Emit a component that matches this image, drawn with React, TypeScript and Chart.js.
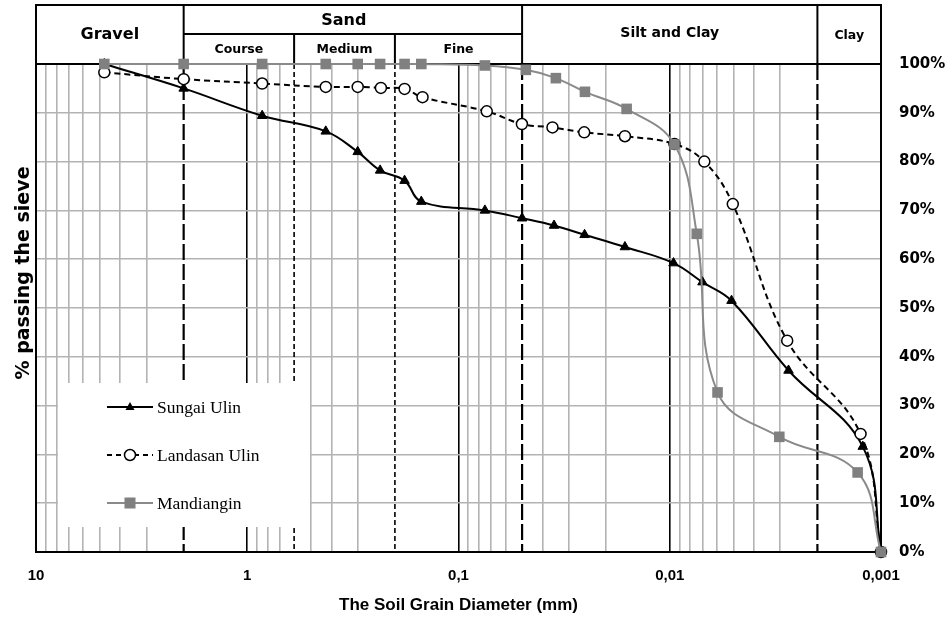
import React, { useEffect, useRef } from 'react';
import { Chart, registerables } from 'chart.js';

Chart.register(...registerables);

// ---------------- data ----------------
const sungaiDiam = [4.75, 2.0, 0.85, 0.425, 0.3, 0.235, 0.18, 0.15, 0.075, 0.05, 0.0353, 0.0253, 0.0163, 0.0096, 0.007, 0.0051, 0.00274, 0.00122, 0.001];
const sungaiPass = [100, 95.0, 89.4, 86.2, 82.0, 78.2, 76.1, 71.8, 70.0, 68.4, 66.9, 65.0, 62.5, 59.2, 55.3, 51.5, 37.2, 21.6, 0];

const landasanDiam = [4.75, 2.0, 0.85, 0.425, 0.3, 0.233, 0.18, 0.148, 0.0735, 0.0501, 0.0359, 0.0254, 0.0163, 0.0095, 0.00686, 0.00503, 0.00278, 0.00125, 0.001];
const landasanPass = [98.3, 96.9, 96.0, 95.3, 95.3, 95.1, 94.9, 93.2, 90.3, 87.7, 87.0, 86.0, 85.2, 83.6, 80.0, 71.3, 43.3, 24.2, 0];

const mandDiam = [4.75, 2.0, 0.85, 0.425, 0.3, 0.235, 0.18, 0.15, 0.075, 0.048, 0.0346, 0.0252, 0.016, 0.0095, 0.00745, 0.00594, 0.00303, 0.00129, 0.001];
const mandPass = [100, 100, 100, 100, 100, 100, 100, 100, 99.7, 98.8, 97.1, 94.3, 90.8, 83.5, 65.2, 32.7, 23.6, 16.3, 0];

const seriesNames = ['Sungai Ulin', 'Landasan Ulin', 'Mandiangin'];

const xTickValues = [10, 1, 0.1, 0.01, 0.001];
const xTickLabels = ['10', '1', '0,1', '0,01', '0,001'];
const yTickValues = [0, 10, 20, 30, 40, 50, 60, 70, 80, 90, 100];
const yTickLabels = ['0%', '10%', '20%', '30%', '40%', '50%', '60%', '70%', '80%', '90%', '100%'];

// soil class boundaries (mm)
const boundaryDiam = [2, 0.6, 0.2, 0.05, 0.002];
// header classes: [name, from diameter, to diameter]
const mainClasses: [string, number, number][] = [
  ['Gravel', 10, 2],
  ['Sand', 2, 0.05],
  ['Silt and Clay', 0.05, 0.002],
  ['Clay', 0.002, 0.001],
];
const sandClasses: [string, number, number][] = [
  ['Course', 2, 0.6],
  ['Medium', 0.6, 0.2],
  ['Fine', 0.2, 0.05],
];

const yTitle = '% passing the sieve';
const xTitle = 'The Soil Grain Diameter (mm)';

// ---------------- helpers ----------------
const isDecade = (v: number) => Math.abs(Math.log10(v) - Math.round(Math.log10(v))) < 1e-9;
const near = (a: number, b: number) => Math.abs(Math.log10(a) - Math.log10(b)) < 1e-6;

const gridValues: number[] = [];
for (let e = 0; e >= -3; e--) {
  for (let k = 9; k >= 1; k--) gridValues.push(parseFloat((k * Math.pow(10, e)).toPrecision(6)));
}
gridValues.unshift(10);

const GRAY = '#b3b3b3';
const HEAD_FONT = '"DejaVu Sans", sans-serif';
const NARROW = '"Liberation Sans Narrow", "Arial Narrow", "Liberation Sans", sans-serif';

const decorPlugin = {
  id: 'decor',
  beforeDatasetsDraw(chart: any) {
    const { ctx, chartArea: a, scales } = chart;
    const xs = scales.x;
    const px = (d: number) => xs.getPixelForValue(d);
    ctx.save();

    // boundary dashed lines
    boundaryDiam.forEach((d) => {
      const long = d === 2 || d === 0.05 || d === 0.002;
      ctx.beginPath();
      ctx.strokeStyle = '#000';
      ctx.lineWidth = long ? 2.2 : 1.6;
      ctx.setLineDash(long ? [16, 4] : [5, 3]);
      ctx.moveTo(px(d), a.top);
      ctx.lineTo(px(d), a.bottom);
      ctx.stroke();
    });
    ctx.setLineDash([]);

    // frame
    ctx.lineWidth = 2;
    ctx.strokeStyle = '#000';
    ctx.strokeRect(a.left, a.top, a.right - a.left, a.bottom - a.top);

    // header
    const hTop = 5;
    const hMid = 34;
    const hBot = a.top;
    ctx.beginPath();
    ctx.rect(a.left, hTop, a.right - a.left, hBot - hTop);
    [2, 0.05, 0.002].forEach((d) => {
      ctx.moveTo(px(d), hTop);
      ctx.lineTo(px(d), hBot);
    });
    ctx.moveTo(px(2), hMid);
    ctx.lineTo(px(0.05), hMid);
    [0.6, 0.2].forEach((d) => {
      ctx.moveTo(px(d), hMid);
      ctx.lineTo(px(d), hBot);
    });
    ctx.stroke();

    ctx.fillStyle = '#000';
    ctx.textAlign = 'center';
    ctx.textBaseline = 'middle';
    mainClasses.forEach(([name, d0, d1]) => {
      const cx = (px(d0) + px(d1)) / 2;
      if (name === 'Sand') {
        ctx.font = `bold 16px ${HEAD_FONT}`;
        ctx.fillText(name, cx - 9, 21);
      } else if (name === 'Clay') {
        ctx.font = `bold 12.5px ${HEAD_FONT}`;
        ctx.fillText(name, cx, 36);
      } else if (name === 'Silt and Clay') {
        ctx.font = `bold 14px ${HEAD_FONT}`;
        ctx.fillText(name, cx, 33);
      } else {
        ctx.font = `bold 16px ${HEAD_FONT}`;
        ctx.fillText(name, cx, 35);
      }
    });
    ctx.font = `bold 12.5px ${HEAD_FONT}`;
    sandClasses.forEach(([name, d0, d1]) => {
      ctx.fillText(name, (px(d0) + px(d1)) / 2, 50);
    });

    // left title
    ctx.save();
    ctx.translate(24, 273);
    ctx.rotate(-Math.PI / 2);
    ctx.font = `bold 19px ${HEAD_FONT}`;
    ctx.fillText(yTitle, 0, 0);
    ctx.restore();

    // legend box
    const lx = 58, ly = 383, lw = 252, lh = 144;
    ctx.fillStyle = '#fff';
    ctx.fillRect(lx, ly, lw, lh);
    const rows = [407, 455, 503];
    rows.forEach((ry, i) => {
      const x0 = 107, x1 = 153, mx = 130;
      ctx.beginPath();
      ctx.lineWidth = 2;
      ctx.strokeStyle = i === 2 ? '#8a8a8a' : '#000';
      ctx.setLineDash(i === 1 ? [5, 4] : []);
      ctx.moveTo(x0, ry);
      ctx.lineTo(x1, ry);
      ctx.stroke();
      ctx.setLineDash([]);
      if (i === 0) {
        ctx.beginPath();
        ctx.fillStyle = '#000';
        ctx.moveTo(mx, ry - 5);
        ctx.lineTo(mx + 4.5, ry + 3);
        ctx.lineTo(mx - 4.5, ry + 3);
        ctx.closePath();
        ctx.fill();
      } else if (i === 1) {
        ctx.beginPath();
        ctx.fillStyle = '#fff';
        ctx.lineWidth = 1.5;
        ctx.strokeStyle = '#000';
        ctx.arc(mx, ry, 5.5, 0, Math.PI * 2);
        ctx.fill();
        ctx.stroke();
      } else {
        ctx.fillStyle = '#808080';
        ctx.fillRect(mx - 5.5, ry - 5.5, 11, 11);
      }
      ctx.fillStyle = '#000';
      ctx.font = '17.5px "Liberation Serif", serif';
      ctx.textAlign = 'left';
      ctx.textBaseline = 'middle';
      ctx.fillText(seriesNames[i], 157, ry + 1);
    });

    ctx.restore();
  },
};

export default function App() {
  const ref = useRef<HTMLCanvasElement>(null);
  useEffect(() => {
    const toPts = (xs: number[], ys: number[]) => xs.map((x, i) => ({ x, y: ys[i] }));
    const chart = new Chart(ref.current as HTMLCanvasElement, {
      type: 'line',
      data: {
        datasets: [
          {
            label: seriesNames[0],
            data: toPts(sungaiDiam, sungaiPass),
            borderColor: '#000',
            backgroundColor: '#000',
            borderWidth: 2,
            pointStyle: 'triangle',
            pointRadius: 5.5,
            pointBackgroundColor: '#000',
            pointBorderColor: '#000',
            pointBorderWidth: 1,
            tension: 0.4,
            clip: false,
            order: 2,
          } as any,
          {
            label: seriesNames[1],
            data: toPts(landasanDiam, landasanPass),
            borderColor: '#000',
            backgroundColor: '#fff',
            borderWidth: 2,
            borderDash: [6, 4],
            pointStyle: 'circle',
            pointRadius: 5.5,
            pointBackgroundColor: '#fff',
            pointBorderColor: '#000',
            pointBorderWidth: 1.5,
            tension: 0.4,
            clip: false,
            order: 1,
          } as any,
          {
            label: seriesNames[2],
            data: toPts(mandDiam, mandPass),
            borderColor: '#8a8a8a',
            backgroundColor: '#808080',
            borderWidth: 2,
            pointStyle: 'rect',
            pointRadius: 7.5,
            pointBackgroundColor: '#808080',
            pointBorderColor: '#808080',
            pointBorderWidth: 0,
            tension: 0.4,
            clip: false,
            order: 0,
          } as any,
        ],
      },
      options: {
        responsive: false,
        animation: false,
        events: [],
        layout: { padding: { top: 64, left: 36, right: 0, bottom: 0 } },
        plugins: { legend: { display: false }, tooltip: { enabled: false } },
        scales: {
          x: {
            type: 'logarithmic',
            reverse: true,
            min: 0.001,
            max: 10,
            afterBuildTicks: (scale: any) => {
              scale.ticks = gridValues.map((v) => ({ value: v, major: isDecade(v) }));
            },
            afterFit: (scale: any) => {
              scale.height = 68;
            },
            border: { display: false },
            grid: {
              drawTicks: false,
              color: (c: any) => {
                const v = c.tick ? c.tick.value : 0;
                if (boundaryDiam.some((b) => near(b, v))) return 'rgba(0,0,0,0)';
                return isDecade(v) ? '#000' : GRAY;
              },
              lineWidth: 1.6,
            },
            ticks: {
              autoSkip: false,
              maxRotation: 0,
              minRotation: 0,
              padding: 15,
              color: '#000',
              font: { family: NARROW, size: 15, weight: 'bold' },
              callback: (v: any) => {
                const i = xTickValues.findIndex((t) => near(t, Number(v)));
                return i >= 0 ? xTickLabels[i] : '';
              },
            },
            title: {
              display: true,
              text: xTitle,
              color: '#000',
              font: { family: NARROW, size: 17, weight: 'bold' },
              padding: { top: 4, bottom: 4 },
            },
          } as any,
          y: {
            position: 'right',
            min: 0,
            max: 100,
            afterBuildTicks: (scale: any) => {
              scale.ticks = yTickValues.map((v) => ({ value: v }));
            },
            afterFit: (scale: any) => {
              scale.width = 67;
            },
            border: { display: false },
            grid: { drawTicks: false, color: GRAY, lineWidth: 1.6 },
            ticks: {
              padding: 18,
              color: '#000',
              font: { family: HEAD_FONT, size: 15, weight: 'bold' },
              callback: (v: any) => {
                const i = yTickValues.indexOf(Number(v));
                return i >= 0 ? yTickLabels[i] : '';
              },
            },
          } as any,
        },
      },
      plugins: [decorPlugin],
    });
    return () => chart.destroy();
  }, []);

  return (
    <div style={{ position: 'fixed', left: 0, top: 0, width: 948, height: 620, background: '#fff' }}>
      <canvas ref={ref} width={948} height={620} style={{ width: 948, height: 620, display: 'block' }} />
    </div>
  );
}
